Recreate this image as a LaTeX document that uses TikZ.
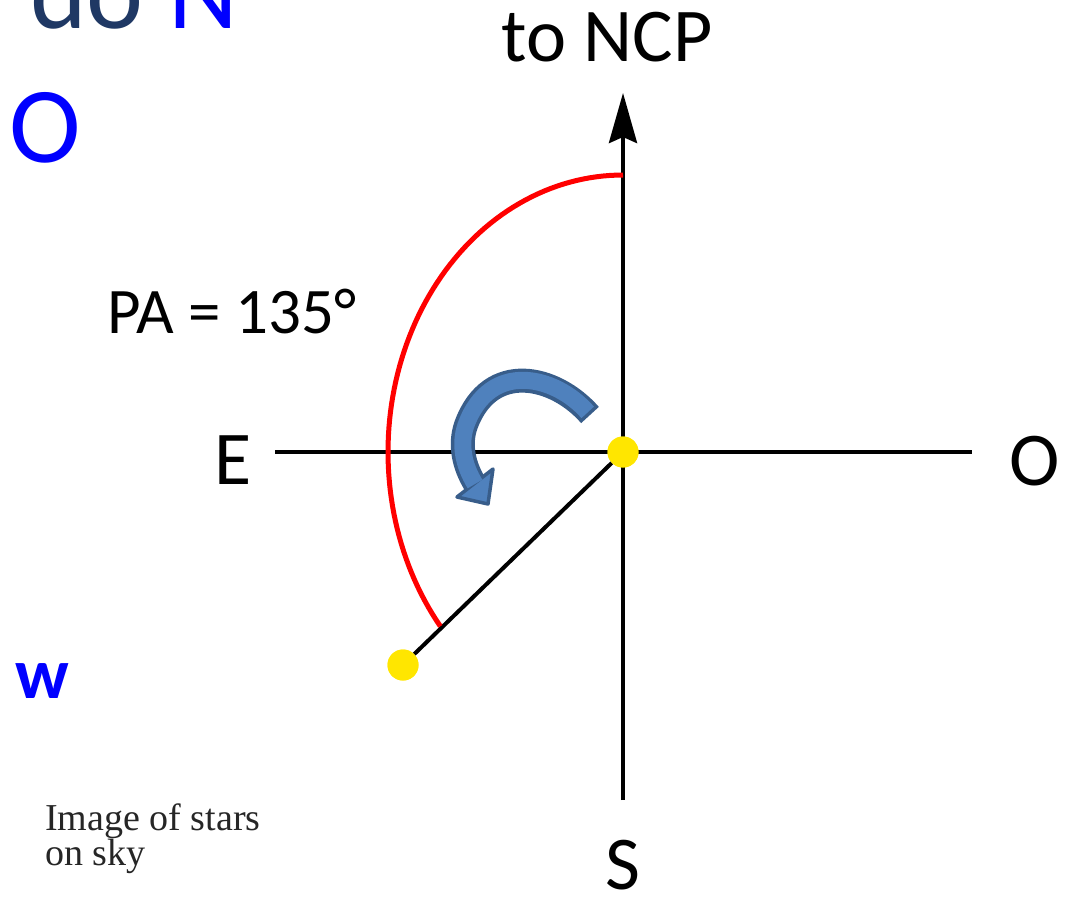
\documentclass[tikz,border=0pt]{standalone}
\usepackage{fontspec}
\setmainfont{Carlito}
\newfontfamily\captfont{Liberation Serif}
\usetikzlibrary{arrows.meta}

\definecolor{skyyellow}{RGB}{255,230,0}
\definecolor{arrowfill}{RGB}{79,129,189}
\definecolor{arrowline}{RGB}{56,93,138}
\definecolor{titlenavy}{RGB}{31,56,100}

\tikzset{
  axis/.style={line width=4.2pt, black},
  star/.style={circle, fill=skyyellow, inner sep=0pt, minimum size=31pt},
  biglabel/.style={anchor=base, inner sep=0pt, font=\fontsize{76}{80}\selectfont},
  palabel/.style={anchor=base west, inner sep=0pt, font=\fontsize{65}{70}\selectfont},
}

\begin{document}
\begin{tikzpicture}[x=1pt, y=-1pt]
\useasboundingbox (0,0) rectangle (1070,900);

% axes
\coordinate (east) at (275,452);
\coordinate (west) at (972,452);
\coordinate (south) at (623,800);
\coordinate (ncp) at (623,93);
\draw[axis] (east) -- (west);
\draw[axis, -{Stealth[length=50pt, width=28pt, inset=6pt]}] (south) -- (ncp);

% stars
\node[star] (c) at (623,452) {};
\node[star] (s) at (403,665) {};
\draw[line width=4pt] (c) -- (s);
\node[star] at (c) {};
\node[star] at (s) {};

% position angle
\draw[red, line width=5pt] plot[domain=90:219, samples=80] ({623+235*cos(\x)}, {452-277*sin(\x)});

% rotation arrow
\coordinate (tail) at (590,415);
\coordinate (neck) at (475,484);
\coordinate (tip) at (488,504);
\draw[arrowline, line width=24pt] (tail) .. controls (555,375) and (490,360) .. (466,425) .. controls (459,445) and (464,466) .. (neck);
\filldraw[fill=arrowfill, draw=arrowline, line width=3.5pt, line join=round] (457,497) -- (493,469) -- (tip) -- cycle;
\draw[arrowfill, line width=17pt, shorten <=3.5pt] (tail) .. controls (555,375) and (490,360) .. (466,425) .. controls (459,445) and (464,466) .. (neck);

% labels
\node[biglabel] (toncp) at (607,61) {to NCP};
\node[palabel] (pa) at (107,333) {PA = 135°};
\node[biglabel] (e) at (233,484) {E};
\node[biglabel] (o) at (1035,485) {O};
\node[biglabel] (s-lab) at (623,889) {S};

% slide leftovers
\node[anchor=base west, inner sep=0pt, font=\fontsize{108}{120}\selectfont] (head) at (30,28) {\textcolor{titlenavy}{do} \textcolor{blue}{N}};
\node[anchor=base, inner sep=0pt, text=blue, font=\fontsize{108}{120}\selectfont] (o-top) at (45,162) {O};
\node[anchor=base, inner sep=0pt, text=blue, font=\bfseries\fontsize{72}{80}\selectfont] (w) at (42,698) {w};
\node[anchor=base west, inner sep=0pt, align=left, text=black!85, font=\captfont\fontsize{38}{35}\selectfont] (img) at (45,865) {Image of stars\\on sky};
\end{tikzpicture}
\end{document}
